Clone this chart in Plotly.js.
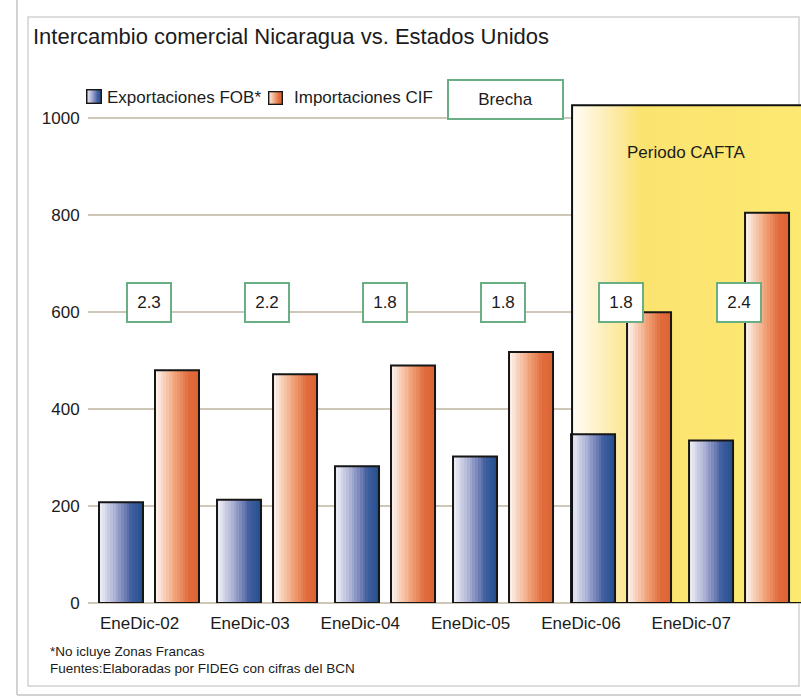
<!DOCTYPE html>
<html><head><meta charset="utf-8">
<script src="https://cdn.plot.ly/plotly-3.0.1.min.js"></script>
<style>html,body{margin:0;padding:0;background:#fff}#chart{width:801px;height:697px}</style>
</head><body><div id="chart"></div>
<script>
// ---- data ----
const categories = ['EneDic-02', 'EneDic-03', 'EneDic-04', 'EneDic-05', 'EneDic-06', 'EneDic-07'];
const exportaciones = [208, 213, 282, 302, 348, 335];
const importaciones = [480, 472, 490, 518, 600, 805];
const brecha = ['2.3', '2.2', '1.8', '1.8', '1.8', '2.4'];
const seriesNames = ['Exportaciones FOB*', 'Importaciones CIF'];
const yTicks = [0, 200, 400, 600, 800, 1000];
const titleText = 'Intercambio comercial Nicaragua vs. Estados Unidos';
const brechaLabel = 'Brecha';
const caftaLabel = 'Periodo CAFTA';
const caftaStartIndex = 3.585;
const footnotes = ['*No icluye Zonas Francas', 'Fuentes:Elaboradas por FIDEG con cifras del BCN'];

// ---- geometry ----
const W = 801, H = 697;
const M = {l: 88, r: 0, t: 94, b: 94};
const PW = W - M.l - M.r, PH = H - M.t - M.b;
const XR = [-0.517, 5.525], YR = [0, 1050];
const pxX = px => (px - M.l) / PW;
const pxY = py => (H - M.b - py) / PH;
const unitsPerPx = (XR[1] - XR[0]) / PW;

const BW = 44 * unitsPerPx;       // bar width
const GAP = 12 * unitsPerPx;      // gap inside a group
const offsets = [-(BW + GAP / 2), GAP / 2];
const N = 16;                      // gradient strips per bar

const blueStops = [[0, '#ECEEF6'], [0.3, '#B4B9D8'], [0.55, '#7A86BA'], [0.75, '#3F5E9F'], [1, '#27508F']];
const orangeStops = [[0, '#FDF1EA'], [0.3, '#F5BD9E'], [0.55, '#EC9264'], [0.78, '#E16C3D'], [1, '#DD6534']];

function hex2rgb(h) { return [1, 3, 5].map(i => parseInt(h.slice(i, i + 2), 16)); }
function lerp(stops, t) {
  for (let i = 1; i < stops.length; i++) {
    if (t <= stops[i][0]) {
      const a = stops[i - 1], b = stops[i];
      const f = (t - a[0]) / (b[0] - a[0]);
      const ca = hex2rgb(a[1]), cb = hex2rgb(b[1]);
      return 'rgb(' + ca.map((v, k) => Math.round(v + (cb[k] - v) * f)).join(',') + ')';
    }
  }
  return stops[stops.length - 1][1];
}

const xIdx = categories.map((c, i) => i);
const traces = [];

// CAFTA background (horizontal gradient)
const caftaStops = [[0, '#FFFDF5'], [0.09, '#FEF4D2'], [0.2, '#FCE9A0'], [0.3, '#FBE36F'], [1, '#FDE972']];
const nCol = 90;
const hx = [], hz = [];
for (let k = 0; k <= nCol; k++) hx.push(caftaStartIndex + (XR[1] + 0.1 - caftaStartIndex) * k / nCol);
for (let k = 0; k < nCol; k++) hz.push(Math.min(1, ((hx[k] + hx[k + 1]) / 2 - caftaStartIndex) / (XR[1] - caftaStartIndex)));
traces.push({
  type: 'heatmap', x: hx, y: [0, 1027], z: [hz], zmin: 0, zmax: 1,
  colorscale: caftaStops, showscale: false, hoverinfo: 'skip', zsmooth: false
});

// gradient bars made of strips
[[exportaciones, blueStops, offsets[0]], [importaciones, orangeStops, offsets[1]]].forEach(([vals, stops, off]) => {
  for (let k = 0; k < N; k++) {
    traces.push({
      type: 'bar', x: xIdx, y: vals, offset: off + k * BW / N, width: BW / N + 0.003,
      marker: {color: lerp(stops, k / (N - 1)), line: {width: 0}},
      showlegend: false, hoverinfo: 'skip'
    });
  }
});
// outlines
[[exportaciones, offsets[0], seriesNames[0]], [importaciones, offsets[1], seriesNames[1]]].forEach(([vals, off, name]) => {
  traces.push({
    type: 'bar', name: name, x: xIdx, y: vals, offset: off, width: BW,
    marker: {color: 'rgba(0,0,0,0)', line: {color: '#161616', width: 2}},
    showlegend: false, hoverinfo: 'x+y+name'
  });
});

function gradientSquare(stops) {
  const st = stops.map(s => `<stop offset="${s[0]}" stop-color="${s[1]}"/>`).join('');
  const svg = `<svg xmlns="http://www.w3.org/2000/svg" width="32" height="32" viewBox="0 0 32 32"><defs><linearGradient id="g" x1="0" y1="0" x2="1" y2="0">${st}</linearGradient></defs><rect x="1.5" y="1.5" width="29" height="29" fill="url(#g)" stroke="#161616" stroke-width="3"/></svg>`;
  return 'data:image/svg+xml;base64,' + btoa(svg);
}

const txt = '#1b1b1b';
const font = 'Liberation Sans, Arial, sans-serif';
const green = '#6AAE84';

const annotations = [];
brecha.forEach((b, i) => annotations.push({
  x: i, y: 620, xref: 'x', yref: 'y', text: b, showarrow: false,
  bgcolor: '#fff', bordercolor: green, borderwidth: 2, borderpad: 0, width: 42, height: 37,
  font: {family: font, size: 17, color: txt}
}));
annotations.push({
  x: pxX(505), y: pxY(100), xref: 'paper', yref: 'paper', xanchor: 'center', yanchor: 'middle',
  text: brechaLabel, showarrow: false,
  bgcolor: '#fff', bordercolor: green, borderwidth: 2, borderpad: 0, width: 113, height: 37,
  font: {family: font, size: 17, color: txt}
});
annotations.push({
  x: 4.55, y: 930, xref: 'x', yref: 'y', text: caftaLabel, showarrow: false,
  font: {family: font, size: 17, color: txt}
});
annotations.push({
  x: pxX(105), y: pxY(97), xref: 'paper', yref: 'paper', xanchor: 'left', yanchor: 'middle',
  text: seriesNames[0], showarrow: false, font: {family: font, size: 17, color: txt}
});
annotations.push({
  x: pxX(292), y: pxY(97), xref: 'paper', yref: 'paper', xanchor: 'left', yanchor: 'middle',
  text: seriesNames[1], showarrow: false, font: {family: font, size: 17, color: txt}
});
footnotes.forEach((f, i) => annotations.push({
  x: pxX(48), y: pxY(651 + i * 17), xref: 'paper', yref: 'paper', xanchor: 'left', yanchor: 'middle',
  text: f, showarrow: false, font: {family: font, size: 13.5, color: txt}
}));

const frame = '#D2D2D2';
const shapes = [
  {type: 'line', xref: 'paper', yref: 'paper', x0: pxX(17), x1: pxX(17), y0: pxY(0), y1: pxY(695), line: {color: frame, width: 2}, layer: 'below'},
  {type: 'line', xref: 'paper', yref: 'paper', x0: pxX(17), x1: pxX(801), y0: pxY(695), y1: pxY(695), line: {color: frame, width: 2}, layer: 'below'},
  {type: 'rect', xref: 'paper', yref: 'paper', x0: pxX(28), x1: pxX(799), y0: pxY(17), y1: pxY(686), line: {color: frame, width: 1.5}, layer: 'below'},
  {type: 'rect', xref: 'x', yref: 'y', x0: caftaStartIndex, x1: 7, y0: 0, y1: 1027, line: {color: '#111', width: 2}, fillcolor: 'rgba(0,0,0,0)', layer: 'above'}
];

const images = [
  {source: gradientSquare(blueStops), xref: 'paper', yref: 'paper', x: pxX(86), y: pxY(89), sizex: 16 / PW, sizey: 15 / PH, xanchor: 'left', yanchor: 'top', sizing: 'stretch', layer: 'above'},
  {source: gradientSquare(orangeStops), xref: 'paper', yref: 'paper', x: pxX(268), y: pxY(91), sizex: 15 / PW, sizey: 14 / PH, xanchor: 'left', yanchor: 'top', sizing: 'stretch', layer: 'above'}
];

const layout = {
  width: W, height: H, margin: M,
  paper_bgcolor: '#fff', plot_bgcolor: 'rgba(0,0,0,0)',
  barmode: 'overlay', bargap: 0,
  title: {text: titleText, x: 33 / W, xanchor: 'left', xref: 'container', y: 1 - 36 / H, yref: 'container', yanchor: 'middle',
          font: {family: font, size: 22, color: txt}},
  xaxis: {range: XR, tickvals: categories.map((c, i) => i * 0.935 - 0.08), ticktext: categories,
          showgrid: false, zeroline: false, showline: false, ticks: 'outside', ticklen: 5, tickcolor: 'rgba(0,0,0,0)',
          tickfont: {family: font, size: 17, color: txt}, fixedrange: true},
  yaxis: {range: YR, tickvals: yTicks, showgrid: true, gridcolor: '#CFC7B7', gridwidth: 2,
          zeroline: true, zerolinecolor: '#CFC7B7', zerolinewidth: 2, showline: false,
          ticks: 'outside', ticklen: 4, tickcolor: 'rgba(0,0,0,0)',
          tickfont: {family: font, size: 17, color: txt}, fixedrange: true},
  annotations, shapes, images, showlegend: false
};

Plotly.newPlot('chart', traces, layout, {displayModeBar: false, staticPlot: true});
</script></body></html>
